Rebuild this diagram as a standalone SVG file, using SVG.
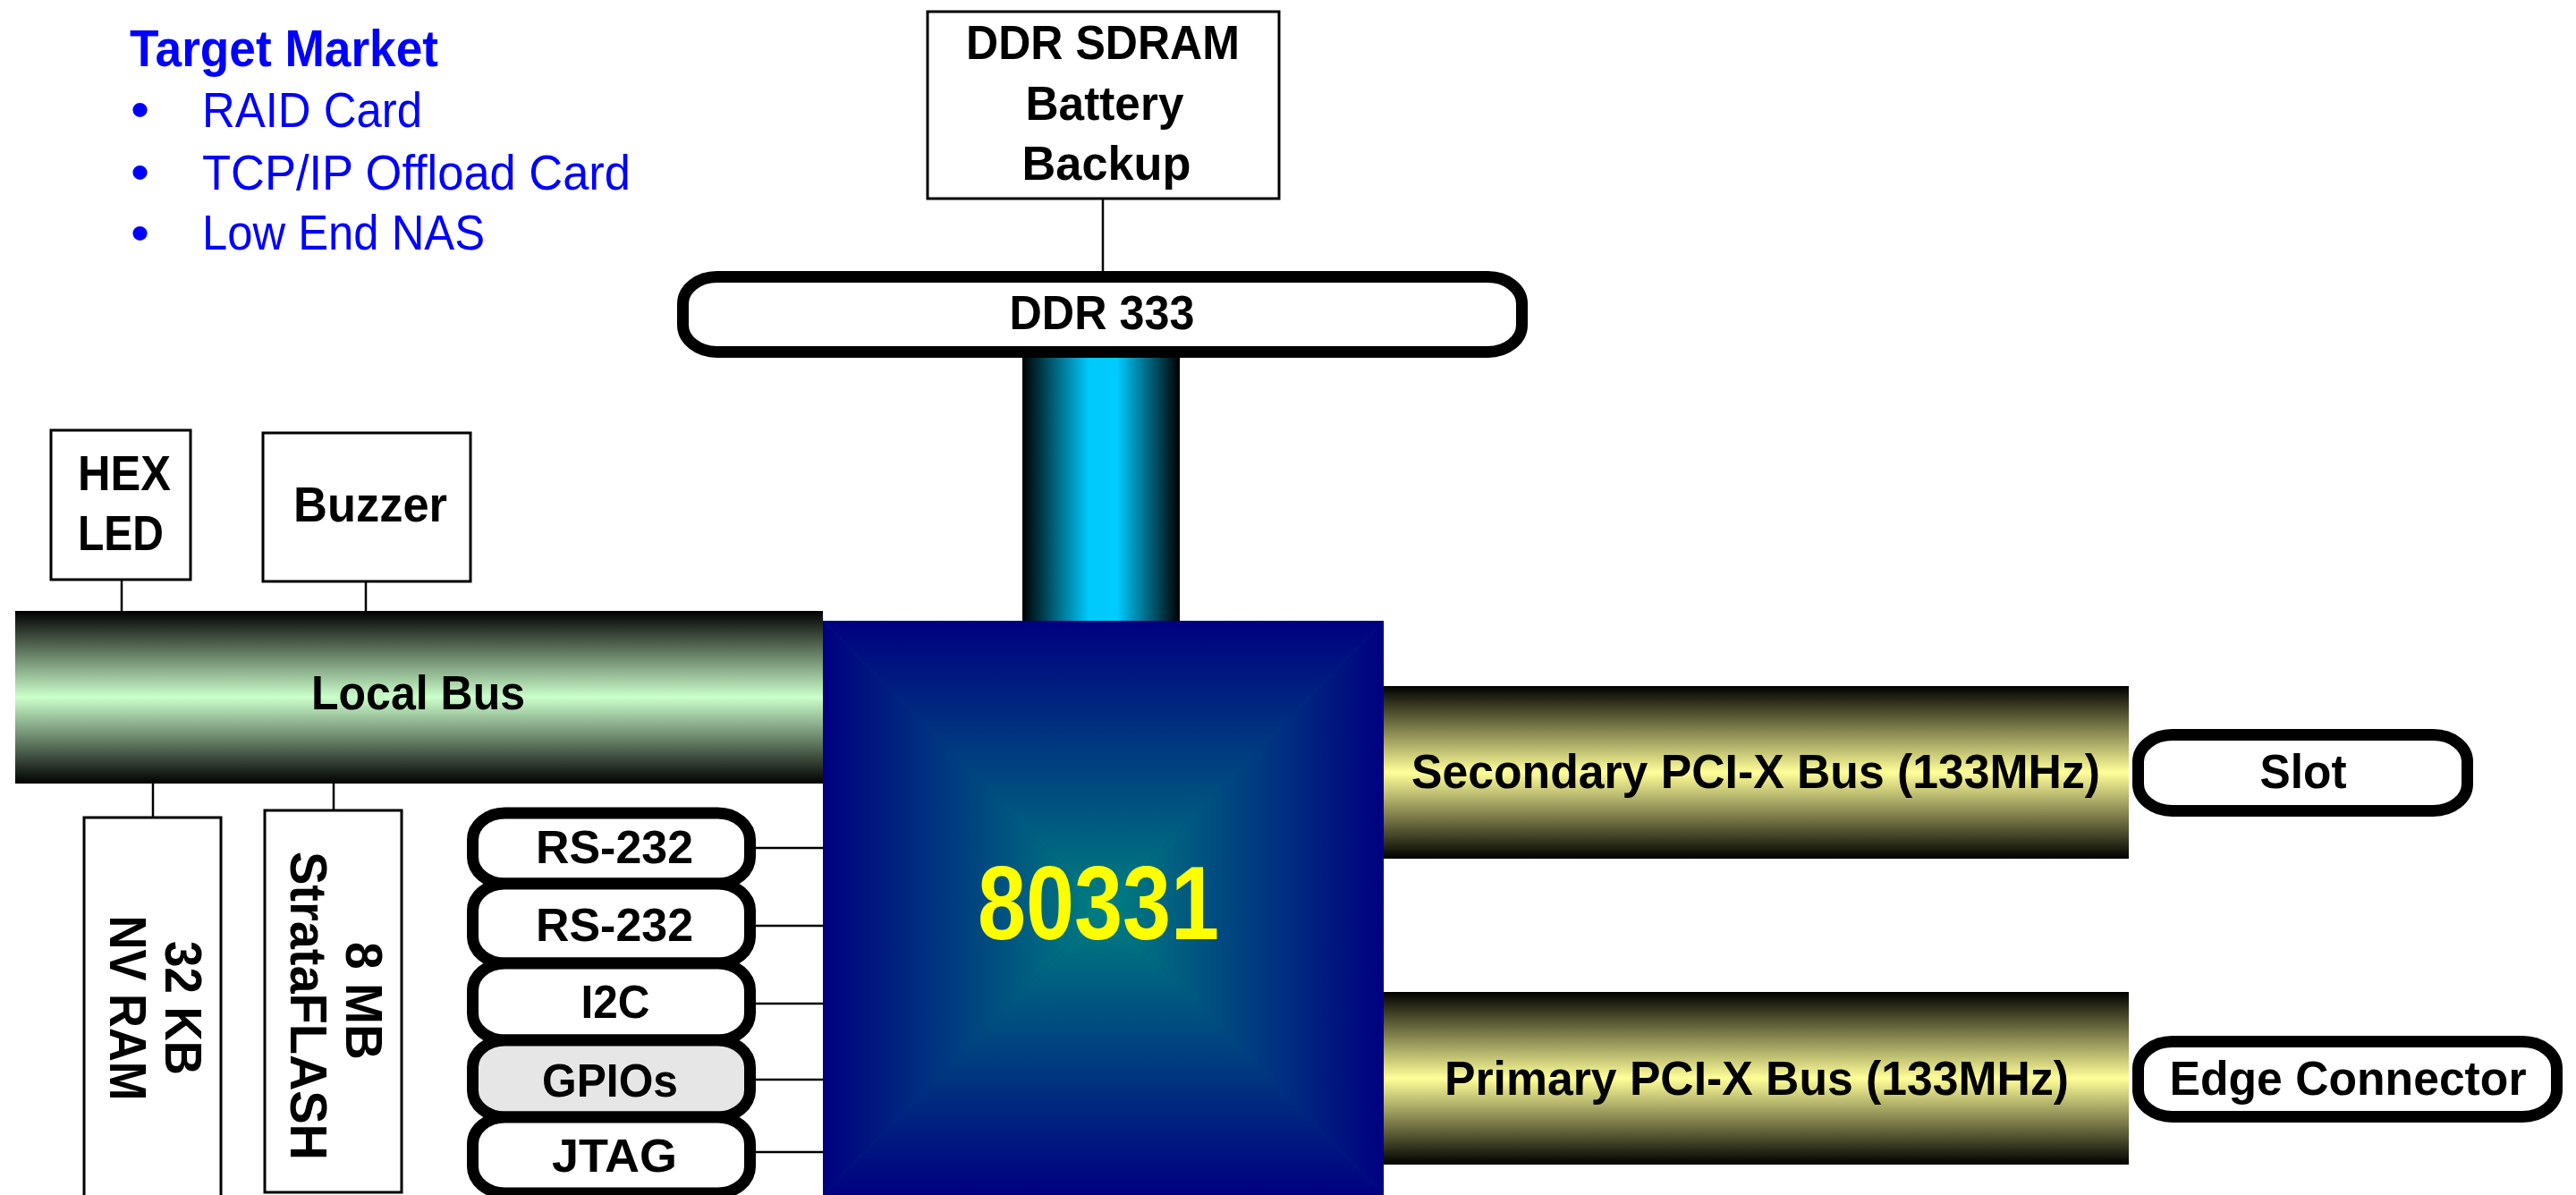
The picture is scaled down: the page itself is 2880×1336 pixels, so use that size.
<svg xmlns="http://www.w3.org/2000/svg" width="2880" height="1336" viewBox="0 0 2880 1336">
<defs>
<linearGradient id="gGreen" x1="0" y1="0" x2="0" y2="1">
<stop offset="0" stop-color="#000000"/><stop offset="0.5" stop-color="#CCFFCC"/><stop offset="1" stop-color="#000000"/>
</linearGradient>
<linearGradient id="gYellow" x1="0" y1="0" x2="0" y2="1">
<stop offset="0" stop-color="#000000"/><stop offset="0.5" stop-color="#FFFF99"/><stop offset="1" stop-color="#000000"/>
</linearGradient>
<linearGradient id="gCyan" x1="0" y1="0" x2="1" y2="0">
<stop offset="0" stop-color="#000000"/><stop offset="0.42" stop-color="#00C8FA"/><stop offset="0.6" stop-color="#00CCFF"/><stop offset="1" stop-color="#000000"/>
</linearGradient>
<linearGradient id="gChipT" gradientUnits="userSpaceOnUse" x1="0" y1="694" x2="0" y2="1015">
<stop offset="0" stop-color="#000080"/><stop offset="1" stop-color="#008080"/>
</linearGradient>
<linearGradient id="gChipB" gradientUnits="userSpaceOnUse" x1="0" y1="1336" x2="0" y2="1015">
<stop offset="0" stop-color="#000080"/><stop offset="1" stop-color="#008080"/>
</linearGradient>
<linearGradient id="gChipL" gradientUnits="userSpaceOnUse" x1="920" y1="0" x2="1233.5" y2="0">
<stop offset="0" stop-color="#000080"/><stop offset="1" stop-color="#008080"/>
</linearGradient>
<linearGradient id="gChipR" gradientUnits="userSpaceOnUse" x1="1547" y1="0" x2="1233.5" y2="0">
<stop offset="0" stop-color="#000080"/><stop offset="1" stop-color="#008080"/>
</linearGradient>
</defs>
<style>
text{font-family:"Liberation Sans",Arial,sans-serif;font-weight:bold;fill:#000000;text-anchor:middle}
.lbl{font-size:53px}
.pilltxt{font-size:52px}
.rot{font-size:58px}
.bus{font-size:54px}
.blue{fill:#0000FF;text-anchor:start}
.reg{font-weight:normal;font-size:56px}
.bullet{font-weight:normal;font-size:60px}
.box{fill:#FFFFFF;stroke:#000000;stroke-width:3}
.pill{fill:#FFFFFF;stroke:#000000;stroke-width:13}
.gray{fill:#E6E6E6}
.conn line{stroke:#000000;stroke-width:2.5}
</style>
<rect x="0" y="0" width="2880" height="1336" fill="#FFFFFF"/>

<g id="target-market">
<text class="blue" x="145" y="74" style="font-size:57px" textLength="345" lengthAdjust="spacingAndGlyphs">Target Market</text>
<text class="blue bullet" x="146" y="143">•</text>
<text class="blue reg" x="226" y="142" textLength="246" lengthAdjust="spacingAndGlyphs">RAID Card</text>
<text class="blue bullet" x="146" y="213">•</text>
<text class="blue reg" x="226" y="212" textLength="479" lengthAdjust="spacingAndGlyphs">TCP/IP Offload Card</text>
<text class="blue bullet" x="146" y="281">•</text>
<text class="blue reg" x="226" y="279" textLength="316" lengthAdjust="spacingAndGlyphs">Low End NAS</text>
</g>

<g class="conn" id="connectors">
<line x1="1233" y1="223" x2="1233" y2="304"/>
<line x1="136" y1="649" x2="136" y2="684"/>
<line x1="409" y1="651" x2="409" y2="684"/>
<line x1="171" y1="828" x2="171" y2="914"/>
<line x1="373" y1="875" x2="373" y2="906"/>
<line x1="845" y1="948" x2="921" y2="948"/>
<line x1="845" y1="1035" x2="921" y2="1035"/>
<line x1="845" y1="1122" x2="921" y2="1122"/>
<line x1="845" y1="1207" x2="921" y2="1207"/>
<line x1="845" y1="1288" x2="921" y2="1288"/>
</g>

<g id="ddr-sdram">
<rect class="box" x="1037" y="13" width="393" height="209"/>
<text class="lbl" x="1233" y="66" textLength="306" lengthAdjust="spacingAndGlyphs">DDR SDRAM</text>
<text class="lbl" x="1235" y="134" textLength="177" lengthAdjust="spacingAndGlyphs">Battery</text>
<text class="lbl" x="1237" y="201" textLength="189" lengthAdjust="spacingAndGlyphs">Backup</text>
</g>

<g id="ddr-column">
<rect x="1143" y="393" width="176" height="302" fill="url(#gCyan)"/>
</g>

<g id="ddr333">
<rect class="pill" x="763.5" y="309.5" width="938" height="84" rx="38" ry="30"/>
<text class="lbl" x="1232" y="368" textLength="207" lengthAdjust="spacingAndGlyphs">DDR 333</text>
</g>

<g id="hex-led">
<rect class="box" x="57" y="481" width="156" height="167"/>
<text class="lbl" x="139" y="548" style="font-size:56px" textLength="104" lengthAdjust="spacingAndGlyphs">HEX</text>
<text class="lbl" x="135" y="615" style="font-size:56px" textLength="96" lengthAdjust="spacingAndGlyphs">LED</text>
</g>

<g id="buzzer">
<rect class="box" x="294" y="484" width="232" height="166"/>
<text class="lbl" x="414" y="583" style="font-size:56px" textLength="172" lengthAdjust="spacingAndGlyphs">Buzzer</text>
</g>

<g id="local-bus">
<rect x="17" y="683" width="903" height="193" fill="url(#gGreen)"/>
<text class="lbl" x="467.5" y="793" textLength="239" lengthAdjust="spacingAndGlyphs">Local Bus</text>
</g>

<g id="nvram">
<rect class="box" x="94" y="914" width="153" height="440"/>
<text class="rot" transform="translate(185,1127) rotate(90)" textLength="150" lengthAdjust="spacingAndGlyphs">32 KB</text>
<text class="rot" transform="translate(123,1127) rotate(90)" textLength="207" lengthAdjust="spacingAndGlyphs">NV RAM</text>
</g>

<g id="strataflash">
<rect class="box" x="296" y="906" width="153" height="427"/>
<text class="rot" transform="translate(387,1119) rotate(90)" textLength="132" lengthAdjust="spacingAndGlyphs">8 MB</text>
<text class="rot" transform="translate(325,1124.5) rotate(90)" textLength="345" lengthAdjust="spacingAndGlyphs">StrataFLASH</text>
</g>

<g id="rs232-1">
<rect class="pill" x="528.5" y="909" width="310" height="79" rx="36" ry="30"/>
<text class="pilltxt" x="687" y="965" textLength="176" lengthAdjust="spacingAndGlyphs">RS-232</text>
</g>
<g id="rs232-2">
<rect class="pill" x="528.5" y="988" width="310" height="89" rx="36" ry="30"/>
<text class="pilltxt" x="687" y="1052" textLength="176" lengthAdjust="spacingAndGlyphs">RS-232</text>
</g>
<g id="i2c">
<rect class="pill" x="528.5" y="1077" width="310" height="86" rx="36" ry="30"/>
<text class="pilltxt" x="688" y="1138" textLength="77" lengthAdjust="spacingAndGlyphs">I2C</text>
</g>
<g id="gpios">
<rect class="pill gray" x="528.5" y="1163" width="310" height="86" rx="36" ry="30"/>
<text class="pilltxt" x="682" y="1226" textLength="152" lengthAdjust="spacingAndGlyphs">GPIOs</text>
</g>
<g id="jtag">
<rect class="pill" x="528.5" y="1249" width="310" height="85" rx="36" ry="30"/>
<text class="pilltxt" x="687" y="1310" textLength="140" lengthAdjust="spacingAndGlyphs">JTAG</text>
</g>

<g id="chip-80331">
<rect x="920" y="694" width="627" height="642" fill="#004080"/>
<polygon points="920,694 1547,694 1233.5,1015" fill="url(#gChipT)"/>
<polygon points="920,1336 1547,1336 1233.5,1015" fill="url(#gChipB)"/>
<polygon points="920,694 920,1336 1233.5,1015" fill="url(#gChipL)"/>
<polygon points="1547,694 1547,1336 1233.5,1015" fill="url(#gChipR)"/>
<text x="1228" y="1050" style="font-size:117px;fill:#FFFF00" textLength="270" lengthAdjust="spacingAndGlyphs">80331</text>
</g>

<g id="secondary-pcix">
<rect x="1547" y="767" width="833" height="193" fill="url(#gYellow)"/>
<text class="bus" x="1963" y="881" textLength="770" lengthAdjust="spacingAndGlyphs">Secondary PCI-X Bus (133MHz)</text>
</g>

<g id="primary-pcix">
<rect x="1547" y="1109" width="833" height="193" fill="url(#gYellow)"/>
<text class="bus" x="1964" y="1224" textLength="698" lengthAdjust="spacingAndGlyphs">Primary PCI-X Bus (133MHz)</text>
</g>

<g id="slot">
<rect class="pill" x="2390.5" y="821.5" width="368" height="85" rx="38" ry="30"/>
<text class="lbl" x="2575" y="881" textLength="97" lengthAdjust="spacingAndGlyphs">Slot</text>
</g>

<g id="edge-connector">
<rect class="pill" x="2390.5" y="1164.5" width="468" height="84" rx="38" ry="30"/>
<text class="lbl" x="2625" y="1224" textLength="399" lengthAdjust="spacingAndGlyphs">Edge Connector</text>
</g>
</svg>
